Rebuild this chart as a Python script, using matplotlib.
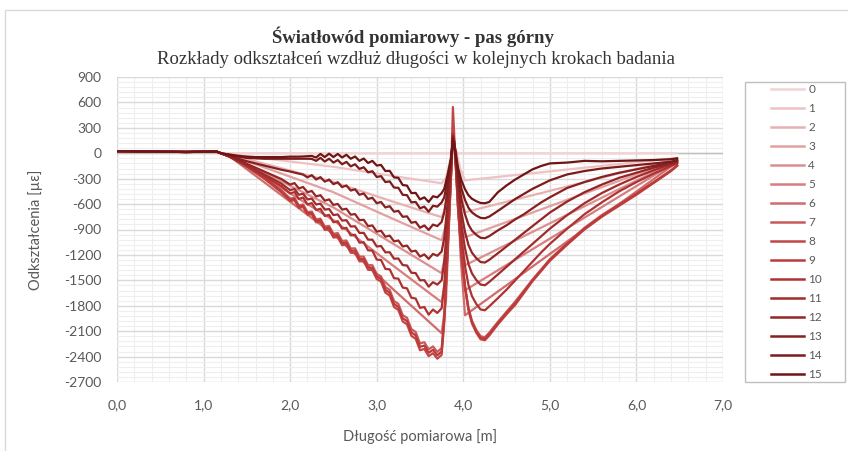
import matplotlib
matplotlib.use('Agg')
import matplotlib.pyplot as plt
from matplotlib.lines import Line2D
from matplotlib.patches import Rectangle
from matplotlib.ticker import MultipleLocator, FuncFormatter

fname = 'out.png'
title = 'Światłowód pomiarowy - pas górny'
subtitle = 'Rozkłady odkształceń wzdłuż długości w kolejnych krokach badania'
xtitle = 'Długość pomiarowa [m]'
ytitle = 'Odkształcenia [µε]'

# common start of every step (0 - 1.15 m)
x_head = [0.0, 0.4, 0.8, 1.15]
y_head = [25, 20, 15, 20]

# step 0 - reference, flat
x_flat = [1.2, 6.47]
s00 = [0, 0]

# steps 1-6, smooth lines
x_smooth = [1.2, 1.3, 2.5, 3.2, 3.75, 3.8, 3.84, 3.88, 3.92, 3.97, 4.02, 6.47]
s01 = [0, -10, -160, -270, -354, -290, -120, 130, 20, -200, -320, -55]
s02 = [0, -15, -340, -575, -755, -620, -260, 150, 10, -450, -696, -65]
s03 = [0, -20, -460, -780, -1027, -840, -350, 160, 0, -640, -991, -75]
s04 = [0, -25, -640, -1075, -1416, -1160, -480, 170, -10, -860, -1322, -85]
s05 = [0, -30, -790, -1335, -1758, -1440, -600, 180, -20, -1050, -1617, -95]
s06 = [0, -35, -955, -1615, -2124, -1740, -720, 190, -30, -1240, -1912, -105]

# steps 7-15, wavy lines
x_wavy = [1.2, 1.3, 1.4, 1.5, 1.6, 1.7, 1.8, 1.9,
          2.0, 2.05, 2.1, 2.15, 2.2, 2.25, 2.3, 2.35, 2.4, 2.45, 2.5, 2.55, 2.6, 2.65, 2.7, 2.75,
          2.8, 2.85, 2.9, 2.95, 3.0, 3.05, 3.1, 3.15, 3.2, 3.25, 3.3, 3.35, 3.4, 3.45, 3.5, 3.55,
          3.6, 3.65, 3.7, 3.75,
          3.78, 3.82, 3.86, 3.88, 3.9, 3.94, 3.98,
          4.02, 4.06, 4.1, 4.15, 4.2, 4.25, 4.3,
          4.4, 4.5, 4.6, 4.7, 4.8, 4.9, 5.0,
          5.2, 5.4, 5.6, 5.8, 6.0, 6.2, 6.4, 6.47]
s07 = [0, -40, -95, -150, -215, -285, -360, -435,
       -535, -525, -615, -605, -695, -688, -780, -772, -865, -858, -950, -942, -1035, -1030, -1125, -1122,
       -1220, -1220, -1320, -1322, -1425, -1452, -1580, -1612, -1745, -1778, -1910, -1942, -2075, -2110, -2245, -2230,
       -2315, -2280, -2345, -2300,
       -1930, -1100, -200, 230, 110, -651, -1194,
       -1563, -1824, -1976, -2084, -2160, -2171, -2117,
       -1990, -1870, -1750, -1620, -1490, -1370, -1250,
       -1060, -880, -730, -600, -470, -340, -200, -140]
s08 = [0, -40, -100, -160, -230, -300, -380, -460,
       -565, -555, -645, -635, -725, -720, -815, -810, -905, -900, -995, -990, -1085, -1080, -1175, -1175,
       -1275, -1275, -1375, -1380, -1485, -1515, -1645, -1680, -1815, -1850, -1985, -2020, -2155, -2190, -2325, -2310,
       -2395, -2360, -2425, -2380,
       -2000, -1130, -210, 545, 120, -662, -1214,
       -1589, -1854, -2008, -2119, -2196, -2207, -2152,
       -2020, -1900, -1790, -1650, -1510, -1390, -1270,
       -1080, -900, -750, -620, -490, -350, -210, -150]
s09 = [0, -40, -98, -155, -222, -292, -370, -455,
       -550, -540, -630, -620, -710, -704, -798, -791, -885, -879, -972, -966, -1060, -1055, -1150, -1148,
       -1248, -1248, -1348, -1351, -1455, -1484, -1612, -1646, -1780, -1814, -1948, -1981, -2115, -2150, -2285, -2270,
       -2355, -2320, -2385, -2340,
       -1960, -1120, -200, 240, 110, -657, -1205,
       -1577, -1840, -1993, -2102, -2179, -2190, -2135,
       -2005, -1885, -1770, -1635, -1500, -1380, -1260,
       -1070, -890, -740, -610, -480, -345, -205, -145]
s10 = [0, -40, -95, -150, -210, -270, -330, -390,
       -475, -458, -540, -522, -605, -588, -670, -655, -740, -728, -815, -802, -890, -880, -970, -962,
       -1055, -1050, -1145, -1150, -1255, -1260, -1365, -1370, -1475, -1480, -1585, -1595, -1705, -1715, -1825, -1815,
       -1905, -1845, -1885, -1830,
       -1560, -900, -170, 220, 100, -556, -1019,
       -1334, -1557, -1686, -1779, -1844, -1853, -1807,
       -1710, -1610, -1500, -1390, -1280, -1170, -1070,
       -890, -720, -580, -450, -340, -240, -150, -120]
s11 = [0, -40, -90, -140, -195, -250, -305, -360,
       -435, -422, -490, -478, -545, -535, -605, -595, -665, -658, -730, -722, -795, -790, -865, -862,
       -940, -940, -1020, -1020, -1100, -1095, -1170, -1168, -1245, -1242, -1320, -1325, -1410, -1415, -1500, -1498,
       -1575, -1522, -1550, -1500,
       -1280, -740, -140, 210, 100, -467, -857,
       -1122, -1309, -1418, -1496, -1550, -1558, -1519,
       -1430, -1340, -1250, -1160, -1070, -980, -890,
       -730, -590, -470, -370, -280, -200, -130, -110]
s12 = [0, -35, -80, -125, -170, -215, -260, -305,
       -370, -352, -415, -398, -460, -445, -510, -495, -560, -545, -610, -598, -665, -655, -725, -718,
       -790, -785, -860, -852, -925, -915, -985, -972, -1040, -1030, -1100, -1090, -1160, -1150, -1220, -1194,
       -1247, -1188, -1210, -1160,
       -1000, -580, -110, 200, 90, -387, -710,
       -929, -1084, -1174, -1238, -1284, -1290, -1258,
       -1180, -1100, -1020, -940, -860, -780, -700,
       -570, -460, -370, -290, -230, -170, -120, -100]
s13 = [0, -30, -65, -95, -120, -145, -170, -195,
       -215, -228, -240, -252, -285, -258, -310, -282, -335, -310, -365, -342, -400, -380, -440, -425,
       -490, -475, -540, -525, -590, -575, -640, -625, -690, -680, -750, -745, -820, -810, -880, -852,
       -905, -842, -860, -810,
       -700, -420, -80, 190, 80, -301, -552,
       -722, -843, -913, -963, -998, -1003, -978,
       -910, -850, -780, -720, -650, -580, -520,
       -410, -340, -280, -230, -190, -150, -110, -90]
s14 = [0, -20, -40, -55, -60, -65, -65, -65,
       -65, -65, -65, -65, -65, -67, -90, -54, -98, -64, -110, -80, -130, -102, -155, -130,
       -185, -165, -225, -212, -280, -270, -340, -332, -405, -408, -490, -495, -580, -575, -650, -630,
       -690, -620, -630, -580,
       -520, -310, -60, 170, 70, -230, -422,
       -552, -644, -698, -736, -763, -767, -748,
       -680, -610, -540, -480, -420, -370, -320,
       -250, -210, -180, -160, -140, -120, -100, -80]
s15 = [0, -15, -30, -40, -45, -45, -45, -45,
       -40, -40, -40, -38, -35, -32, -50, -8, -45, -5, -45, -8, -50, -18, -65, -38,
       -90, -62, -115, -90, -145, -138, -210, -208, -285, -290, -375, -382, -470, -468, -545, -520,
       -575, -508, -520, -470,
       -420, -250, -50, 150, 60, -177, -325,
       -425, -496, -537, -566, -587, -590, -575,
       -460, -380, -310, -250, -190, -150, -120,
       -110, -90, -95, -90, -85, -80, -70, -60]

steps = [0, 1, 2, 3, 4, 5, 6, 7, 8, 9, 10, 11, 12, 13, 14, 15]
colors = ['#f3d3d3', '#eec2c2', '#e8b1b1', '#e2a0a0', '#dc8f8f', '#d67e7e', '#cf6c6c', '#c95a5a',
          '#c34646', '#bb3a3a', '#ae3232', '#a12c2c', '#942626', '#872020', '#7b1b1b', '#6e1515']

#-----

series = [(x_flat, s00)] + [(x_smooth, s) for s in (s01, s02, s03, s04, s05, s06)] + \
         [(x_wavy, s) for s in (s07, s08, s09, s10, s11, s12, s13, s14, s15)]

W, H = 848, 451
grey = '#595959'
fig = plt.figure(figsize=(W / 100, H / 100), dpi=100)

# chart area border (Excel style)
fig.patches.append(Rectangle((5 / W, -0.1), 1.2, 1.1 - 10 / H, transform=fig.transFigure,
                             fill=False, edgecolor='#d9d9d9', lw=1))

ax = fig.add_axes([117 / W, 1 - 382 / H, (723 - 117) / W, (382 - 77) / H])
ax.set_xlim(0, 7)
ax.set_ylim(-2700, 900)
ax.xaxis.set_major_locator(MultipleLocator(1))
ax.xaxis.set_minor_locator(MultipleLocator(0.2))
ax.yaxis.set_major_locator(MultipleLocator(300))
ax.yaxis.set_minor_locator(MultipleLocator(60))
ax.grid(which='minor', color='#eeeeee', lw=0.8)
ax.grid(which='major', color='#d9d9d9', lw=1)
ax.set_axisbelow(True)
for sp in ax.spines.values():
    sp.set_visible(False)
ax.axhline(0, color='#bfbfbf', lw=1, zorder=1)

ax.xaxis.set_major_formatter(FuncFormatter(lambda v, p: '{:.1f}'.format(v).replace('.', ',')))
ax.yaxis.set_major_formatter(FuncFormatter(lambda v, p: '{:d}'.format(int(round(v)))))
ax.tick_params(which='both', length=0, labelsize=10, labelcolor=grey)
ax.tick_params(axis='y', pad=11)
ax.tick_params(axis='x', pad=12)
for lab in ax.get_xticklabels() + ax.get_yticklabels():
    lab.set_family(['Lato', 'DejaVu Sans'])

handles = []
for k, (xs, ys) in zip(steps, series):
    ax.plot(x_head + xs, y_head + ys, color=colors[k], lw=1.6, zorder=2 + k,
            solid_joinstyle='round')
    handles.append(Line2D([], [], color=colors[k], lw=1.8))

fig.text(413 / W, 1 - 37 / H, title, ha='center', va='center', fontsize=13.5,
         fontweight='bold', family='Liberation Serif', color='#333333')
fig.text(416 / W, 1 - 59 / H, subtitle, ha='center', va='center', fontsize=13.5,
         family='Liberation Serif', color='#333333')
fig.text(420 / W, 1 - 437 / H, xtitle, ha='center', va='center', fontsize=10.5,
         family=['Lato', 'DejaVu Sans'], color=grey)
fig.text(36 / W, 1 - 230 / H, ytitle, ha='center', va='center', rotation=90, fontsize=10.5,
         family=['Lato', 'DejaVu Sans'], color=grey)

# legend with a separate frame
fig.patches.append(Rectangle((745 / W, 1 - 382 / H), 100 / W, 300 / H, transform=fig.transFigure,
                             fill=False, edgecolor='#bfbfbf', lw=1))
fig.legend(handles, [str(s) for s in steps], loc='upper left',
           bbox_to_anchor=(771 / W, 1 - 84 / H), frameon=False, borderpad=0, borderaxespad=0,
           handlelength=2.8, handletextpad=0.35, labelspacing=0.68,
           prop={'family': ['Lato', 'DejaVu Sans'], 'size': 8.5}, labelcolor=grey)

plt.savefig(fname, dpi=100)
